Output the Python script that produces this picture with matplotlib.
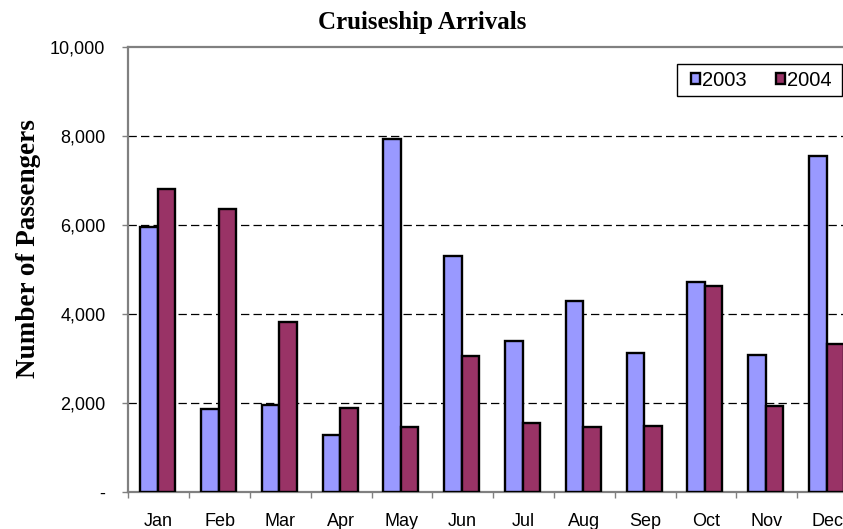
import matplotlib
matplotlib.use("Agg")
import matplotlib.pyplot as plt
import numpy as np
from matplotlib.ticker import FuncFormatter, FixedLocator
from matplotlib.patches import Rectangle

months = ["Jan", "Feb", "Mar", "Apr", "May", "Jun", "Jul", "Aug", "Sep", "Oct", "Nov", "Dec"]
passengers_2003 = [5950, 1860, 1960, 1285, 7920, 5300, 3390, 4280, 3115, 4710, 3070, 7550]
passengers_2004 = [6800, 6350, 3810, 1890, 1460, 3060, 1550, 1470, 1495, 4630, 1930, 3325]
series_names = ["2003", "2004"]
y_ticks = [0, 2000, 4000, 6000, 8000, 10000]

plt.rcParams['lines.scale_dashes'] = False
W, H = 843, 529
fig = plt.figure(figsize=(W / 100, H / 100), dpi=100)
left, right, top, bottom = 128.3, 857.9, 46.5, 492.3
ax = fig.add_axes([left / W, 1 - bottom / H, (right - left) / W, (bottom - top) / H])

x = np.arange(len(months))
bw = 0.288
b1 = ax.bar(x - bw / 2 - 0.015, passengers_2003, width=bw, color="#9999FF", edgecolor="black",
            linewidth=1.7, zorder=3, label=series_names[0])
b2 = ax.bar(x + bw / 2 - 0.015, passengers_2004, width=bw, color="#993366", edgecolor="black",
            linewidth=1.7, zorder=3, label=series_names[1])

ax.set_xlim(-0.5, len(months) - 0.5)
ax.set_ylim(0, 10000)

ax.yaxis.set_major_locator(FixedLocator(y_ticks))
ax.yaxis.set_major_formatter(FuncFormatter(lambda v, p: "-" if v == 0 else f"{int(v):,}"))
for yv in y_ticks[1:-1]:
    ax.axhline(yv, color="black", linewidth=0.9, linestyle=(0, (6, 3)), zorder=1)

ax.xaxis.set_major_locator(FixedLocator(np.arange(-0.5, len(months), 1.0)))
ax.xaxis.set_major_formatter(FuncFormatter(lambda v, p: ""))
ax.xaxis.set_minor_locator(FixedLocator(x))
ax.set_xticklabels(months, minor=True)

ax.tick_params(axis="x", which="major", direction="out", length=4.5, width=1.0, color="#808080")
ax.tick_params(axis="x", which="minor", length=0, pad=15, labelsize=13)
ax.tick_params(axis="y", which="major", direction="out", length=4.5, width=1.0, color="#808080",
               pad=12, labelsize=13)
for lab in ax.get_xticklabels(minor=True) + ax.get_yticklabels():
    lab.set_fontfamily("Liberation Sans")

for s in ["left", "bottom", "top", "right"]:
    ax.spines[s].set_color("#808080")
    ax.spines[s].set_linewidth(1.6)

fig.text(422.5 / W, 1 - 28.5 / H, "Cruiseship Arrivals", ha="center", va="baseline",
         fontsize=18, fontweight="bold", fontfamily="Liberation Serif")
fig.text(28.5 / W, 1 - 249 / H, "Number of Passengers", ha="center", va="center", rotation=90,
         fontsize=19.5, fontweight="bold", fontfamily="Liberation Serif")

# legend frame
fig.patches.append(Rectangle((677 / W, 1 - 96 / H), (842 - 677) / W, 32 / H,
                             transform=fig.transFigure, facecolor="white", edgecolor="black",
                             linewidth=1.0, zorder=5))
leg = fig.legend(handles=[b1, b2], labels=series_names, loc="center left",
                 bbox_to_anchor=(685 / W, 1 - 80 / H), ncol=2, frameon=False,
                 prop={"family": "Liberation Sans", "size": 14.5},
                 handlelength=0.45, handleheight=0.45, handletextpad=0.1,
                 columnspacing=1.45, borderpad=0.3, borderaxespad=0)
leg.set_zorder(6)

fig.savefig("out.png", dpi=100)
